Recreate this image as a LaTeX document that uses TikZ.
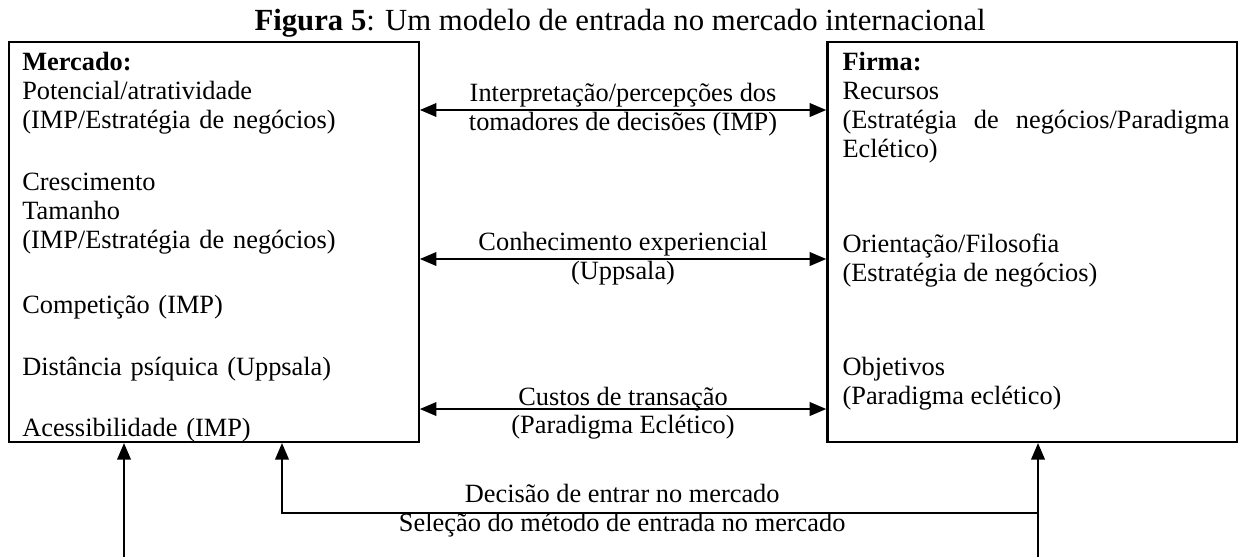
\documentclass[tikz,border=0pt]{standalone}
\usepackage{fontspec}
\setmainfont{Liberation Serif}
\usepackage{tikz}
\usetikzlibrary{positioning,arrows.meta}
\newcommand{\bodyfont}{\fontsize{12.7pt}{13.92pt}\selectfont}
\newcommand{\headfont}{\fontsize{14.8pt}{17pt}\selectfont}

\begin{document}
\begin{tikzpicture}[
 frame/.style={rectangle, draw=black, line width=1.1pt, minimum width=6.94cm,
 minimum height=6.77cm, inner sep=0pt},
 txt/.style={anchor=north west, inner sep=0pt, font=\bodyfont},
 lbl/.style={align=center, inner sep=0pt, font=\bodyfont},
 up/.style={-{Triangle[length=2.8mm,width=2.3mm]}, line width=0.9pt},
 bi/.style={{Triangle[length=2.8mm,width=2.3mm]}-{Triangle[length=2.8mm,width=2.3mm]}, line width=0.9pt},
]
 \useasboundingbox (0,0) rectangle (20.98,9.432);
 \node[font=\headfont, anchor=base] (title) at (10.5,8.907)
 {\textbf{Figura 5}: Um modelo de entrada no mercado internacional};

 % the two boxes
 \node[frame] (mkt) at (3.62,5.334) {};
 \node[frame] (firm) at (17.48,5.334) {};

 \node[txt, text width=6.5cm, align=left] (mkttxt) at ([xshift=0.24cm,yshift=-0.19cm]mkt.north west)
 {\textbf{Mercado:}\\
 Potencial/atratividade\\
 (IMP/Estratégia de negócios)\\[15.8pt]
 Crescimento\\
 Tamanho\\
 (IMP/Estratégia de negócios)\\[17.8pt]
 Competição (IMP)\\[15.8pt]
 Distância psíquica (Uppsala)\\[15.3pt]
 Acessibilidade (IMP)};
 \node[txt, text width=6.553cm, align=justify] (firmtxt) at ([xshift=0.27cm,yshift=-0.19cm]firm.north west)
 {\textbf{Firma:}\\
 Recursos\\
 (Estratégia de negócios/Paradigma Eclético)\\[31.7pt]
 Orientação/Filosofia\\
 (Estratégia de negócios)\\[31.7pt]
 Objetivos\\
 (Paradigma eclético)};

 % links between the boxes
 \draw[bi] ([yshift=2.235cm]mkt.east) -- ([yshift=2.235cm]firm.west)
 node[midway, lbl]{Interpretação/percepções dos\\tomadores de decisões (IMP)};
 \draw[bi] ([yshift=-0.288cm]mkt.east) -- ([yshift=-0.288cm]firm.west)
 node[midway, lbl]{Conhecimento experiencial\\(Uppsala)};
 \draw[bi] ([yshift=-2.828cm]mkt.east) -- ([yshift=-2.828cm]firm.west)
 node[midway, lbl, yshift=-2pt]{Custos de transação\\(Paradigma Eclético)};

 % inputs from below
 \coordinate (in1) at (2.10,0);
 \coordinate (in2) at (17.577,0);
 \coordinate (dec) at (4.775,0.745);
 \draw[up] (in1) -- (in1 |- mkt.south);
 \draw[up] (in2) -- (in2 |- firm.south);
 \draw[up] (in2 |- dec) -- node[lbl, pos=0.55, yshift=1pt]{Decisão de entrar no mercado\\Seleção do método de entrada no mercado}
 (dec) -- (dec |- mkt.south);
\end{tikzpicture}
\end{document}
